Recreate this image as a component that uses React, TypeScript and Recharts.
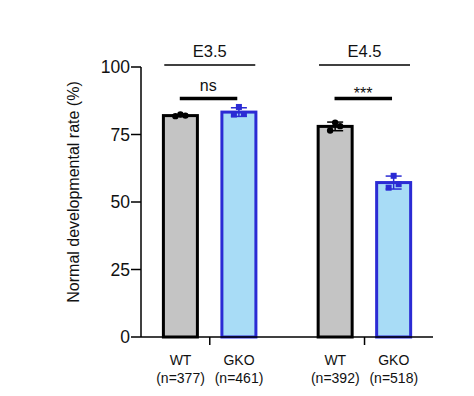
import React from 'react';
import { ComposedChart, Bar, XAxis, YAxis, ErrorBar, ReferenceLine } from 'recharts';

const groups = ['E3.5', 'E4.5'];
const wtMean = [82.0, 78.0];
const gkoMean = [83.3, 57.2];
const wtErr = [0.3, 1.6];
const gkoErr = [1.6, 2.4];
const wtPoints = [[81.8, 82.4, 82.0], [76.5, 79.4, 78.1]];
const gkoPoints = [[82.4, 85.2, 82.6], [55.3, 59.7, 56.6]];
const wtNames = ['WT', 'WT'];
const gkoNames = ['GKO', 'GKO'];
const wtCounts = ['(n=377)', '(n=392)'];
const gkoCounts = ['(n=461)', '(n=518)'];
const significance = ['ns', '***'];
const yTicks = [0, 25, 50, 75, 100];
const groupLineLevel = 100.7;
const sigLineLevel = 88.3;

const data = groups.map((g, i) => ({
  group: g,
  wt: wtMean[i],
  gko: gkoMean[i],
  wtErr: wtErr[i],
  gkoErr: gkoErr[i],
  wtPts: wtPoints[i],
  gkoPts: gkoPoints[i],
}));

const FONT = '"Liberation Sans", Arial, sans-serif';
const GRAY = '#c4c4c4';
const LIGHTBLUE = '#a8dcf6';
const BLUE = '#2b2bd4';
const JITTER = [-5, 0, 5];
const HALF_PAIR = 29.25;
const X_PAD = { left: -8.6, right: -8.9 };

const makeShape = (meanKey: string, ptsKey: string, fill: string, stroke: string, marker: 'circle' | 'square') =>
  (props: any) => {
    const { x, y, width, height, payload } = props;
    const mean = payload[meanKey];
    const base = y + height;
    const toY = (v: number) => base - (v / mean) * height;
    const cx = x + width / 2;
    return (
      <g>
        <rect x={x} y={y} width={width} height={height} fill={fill} stroke={stroke} strokeWidth={3} />
        {payload[ptsKey].map((v: number, i: number) =>
          marker === 'circle' ? (
            <circle key={i} cx={cx + JITTER[i]} cy={toY(v)} r={3.2} fill={stroke} />
          ) : (
            <rect key={i} x={cx + JITTER[i] - 3} y={toY(v) - 3} width={6} height={6} fill={stroke} />
          )
        )}
      </g>
    );
  };

const wtShape = makeShape('wt', 'wtPts', GRAY, '#000', 'circle');
const gkoShape = makeShape('gko', 'gkoPts', LIGHTBLUE, BLUE, 'square');

const makeAnnotation = (title: string, sig: string) => (props: any) => {
  const { x1, y1, y2 } = props;
  const top = Math.min(y1, y2);
  const bottom = Math.max(y1, y2);
  const toY = (v: number) => bottom - (v / 100) * (bottom - top);
  const gy = toY(groupLineLevel);
  const sy = toY(sigLineLevel);
  const cx = x1;
  const isStars = sig.indexOf('*') >= 0;
  return (
    <g>
      <line x1={cx - 45.5} x2={cx + 45.5} y1={gy} y2={gy} stroke="#000" strokeWidth={1.5} />
      <text x={cx} y={gy - 8} textAnchor="middle" fontSize={16.5} fontFamily={FONT} fill="#111">{title}</text>
      <line x1={cx - 30} x2={cx + 27.5} y1={sy} y2={sy} stroke="#000" strokeWidth={3.5} />
      <text
        x={cx - 1.5}
        y={isStars ? sy + 0.5 : sy - 7.5}
        textAnchor="middle"
        fontSize={16}
        fontFamily={FONT}
        fill="#111"
      >
        {sig}
      </text>
    </g>
  );
};

const XTick = (props: any) => {
  const { x, y, payload } = props;
  const i = payload.index;
  const common = { textAnchor: 'middle' as const, fontSize: 14, fontFamily: FONT, fill: '#111' };
  return (
    <g>
      <text x={x - HALF_PAIR} y={y + 18} {...common}>{wtNames[i]}</text>
      <text x={x - HALF_PAIR} y={y + 36} {...common}>{wtCounts[i]}</text>
      <text x={x + HALF_PAIR} y={y + 18} {...common}>{gkoNames[i]}</text>
      <text x={x + HALF_PAIR} y={y + 36} {...common}>{gkoCounts[i]}</text>
    </g>
  );
};

const YLabel = (props: any) => {
  const { viewBox } = props;
  const cx = viewBox.x + 18;
  const cy = viewBox.y + viewBox.height / 2 - 10;
  return (
    <text
      x={cx}
      y={cy}
      transform={`rotate(-90 ${cx} ${cy})`}
      textAnchor="middle"
      dominantBaseline="central"
      fontSize={16}
      fontFamily={FONT}
      fill="#111"
    >
      Normal developmental rate (%)
    </text>
  );
};

export default function App() {
  return (
    <div style={{ position: 'absolute', left: 0, top: 0, background: '#fff' }}>
      <ComposedChart
        width={474}
        height={396}
        data={data}
        margin={{ top: 67, right: 41, bottom: 29, left: 55 }}
        barGap={24.5}
        barSize={34}
      >
        <XAxis
          dataKey="group"
          padding={X_PAD}
          axisLine={{ stroke: '#000', strokeWidth: 1.5 }}
          tickLine={{ stroke: '#000', strokeWidth: 1.5 }}
          tickSize={8}
          tick={<XTick />}
          interval={0}
          height={30}
        />
        <YAxis
          domain={[0, 100]}
          ticks={yTicks}
          width={86}
          axisLine={{ stroke: '#000', strokeWidth: 1.5 }}
          tickLine={{ stroke: '#000', strokeWidth: 1.5 }}
          tickSize={10}
          tickMargin={1}
          tick={{ fontSize: 17.5, fill: '#111', fontFamily: FONT }}
          label={<YLabel />}
        />
        <Bar dataKey="wt" shape={wtShape} isAnimationActive={false}>
          <ErrorBar dataKey="wtErr" direction="y" width={8} stroke="#000" strokeWidth={1.5} />
        </Bar>
        <Bar dataKey="gko" shape={gkoShape} isAnimationActive={false}>
          <ErrorBar dataKey="gkoErr" direction="y" width={8} stroke={BLUE} strokeWidth={1.5} />
        </Bar>
        {groups.map((g, i) => (
          <ReferenceLine
            key={'g' + i}
            x={g}
            ifOverflow="visible"
            shape={makeAnnotation(g, significance[i])}
          />
        ))}
      </ComposedChart>
    </div>
  );
}
